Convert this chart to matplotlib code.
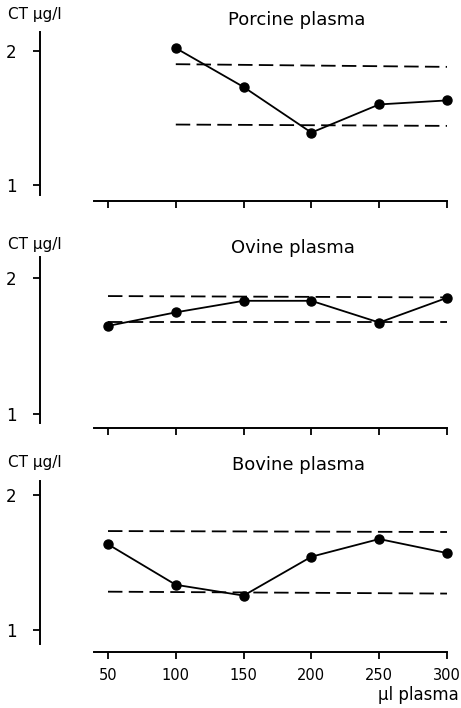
import numpy as np
import matplotlib.pyplot as plt

# ul plasma
x = [50, 100, 150, 200, 250, 300]

# CT ug/l
porcine_x = [100, 150, 200, 250, 300]
porcine = [2.02, 1.73, 1.39, 1.60, 1.63]
porcine_hi = [1.90, 1.88]
porcine_lo = [1.45, 1.44]

ovine = [1.65, 1.75, 1.835, 1.835, 1.675, 1.857]
ovine_hi = [1.87, 1.86]
ovine_lo = [1.68, 1.68]

bovine = [1.635, 1.335, 1.255, 1.543, 1.674, 1.57]
bovine_hi = [1.733, 1.726]
bovine_lo = [1.284, 1.27]

titles = ["Porcine plasma", "Ovine plasma", "Bovine plasma"]

W, H = 461, 708
plt.rcParams['font.family'] = ['DejaVu Sans']
fig = plt.figure(figsize=(W / 100, H / 100), dpi=100)

# pixel boxes (top, bottom) and y ranges for each panel
boxes = [(32, 201), (256.7, 427.7), (480.7, 652.3)]
ylims = [(0.88, 2.14), (0.90, 2.16), (0.835, 2.106)]
spine_lo = [0.925, 0.934, 0.90]

panels = [
    (porcine_x, porcine, [100, 300], porcine_hi, porcine_lo),
    (x, ovine, [50, 300], ovine_hi, ovine_lo),
    (x, bovine, [50, 300], bovine_hi, bovine_lo),
]

left = 40.2 / W
width = (449.7 - 40.2) / W
for i, (px, py, dx, hi, lo) in enumerate(panels):
    top, bot = boxes[i]
    ax = fig.add_axes([left, 1 - bot / H, width, (bot - top) / H])
    ax.plot(px, py, '-o', color='black', lw=1.3, ms=6.5, clip_on=False)
    ax.plot(dx, hi, color='black', lw=1.3, dashes=(8, 3.5))
    ax.plot(dx, lo, color='black', lw=1.3, dashes=(8, 3.5))
    ax.set_xlim(0, 302)
    ax.set_ylim(*ylims[i])
    ax.spines['top'].set_visible(False)
    ax.spines['right'].set_visible(False)
    ax.spines['left'].set_bounds(spine_lo[i], ylims[i][1])
    ax.spines['bottom'].set_bounds(40, 300)
    for s in ['left', 'bottom']:
        ax.spines[s].set_linewidth(1.4)
    ax.set_xticks(x)
    ax.set_yticks([1, 2])
    ax.tick_params(axis='y', direction='out', length=5, width=1.3, pad=12, labelsize=12)
    ax.tick_params(axis='x', direction='out', length=5, width=1.3, pad=6, labelsize=10.5)
    if i < 2:
        ax.set_xticklabels([])

title_pos = [(297, 20), (293, 248), (298, 465)]
ct_pos = [15, 245, 463]
for i in range(3):
    tx, ty = title_pos[i]
    fig.text(tx / W, 1 - ty / H, titles[i], ha='center', va='center', fontsize=13)
    fig.text(8 / W, 1 - ct_pos[i] / H, "CT µg/l", ha='left', va='center', fontsize=11)

fig.text(459 / W, 1 - 695 / H, "µl plasma", ha='right', va='center', fontsize=12)

fig.savefig("out.png", dpi=100)
